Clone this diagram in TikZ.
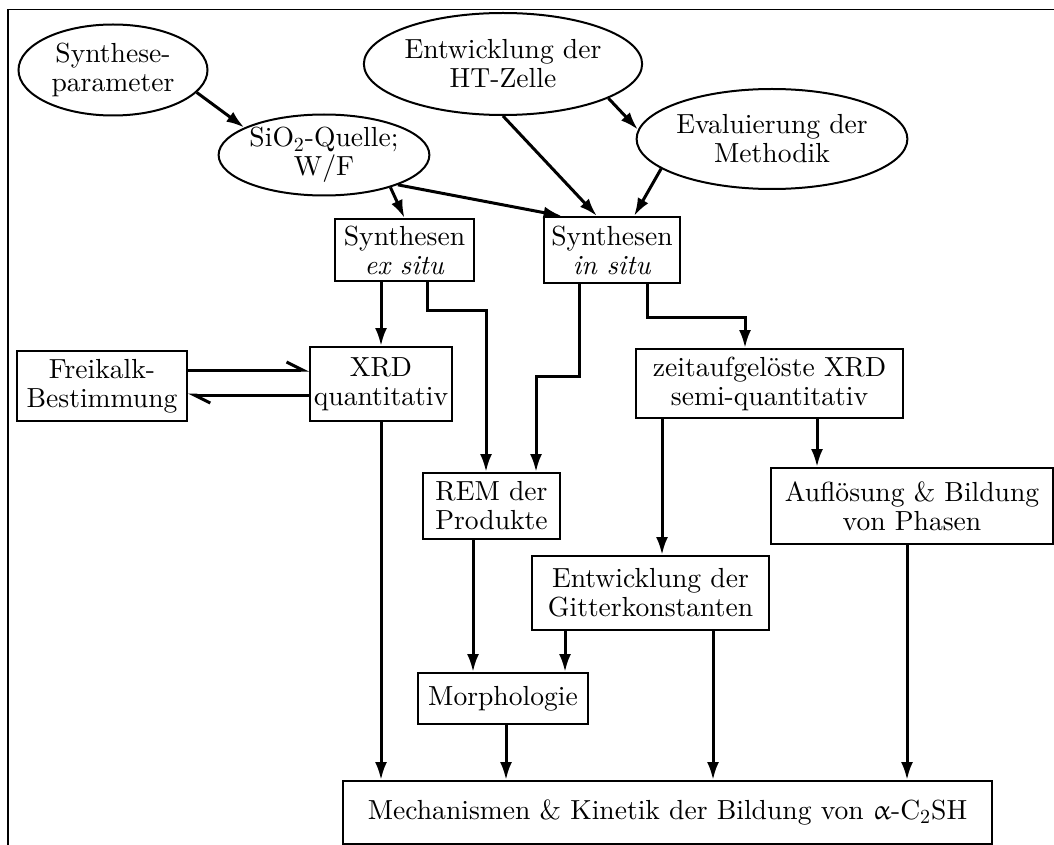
\documentclass[tikz,border=0pt]{standalone}
\usepackage{fontspec}
\setmainfont{lmroman10}[Extension=.otf,UprightFont=*-regular,ItalicFont=*-italic,BoldFont=*-bold,BoldItalicFont=*-bolditalic]
\usepackage{upgreek}
\usetikzlibrary{shapes.geometric,arrows.meta}

\begin{document}
\begin{tikzpicture}[x=0.5pt,y=-0.5pt,
  ell/.style={draw,ellipse,line width=1pt,inner sep=0pt,align=center,font=\fontsize{13.8}{14.5}\selectfont},
  box/.style={draw,rectangle,line width=1pt,inner sep=2pt,align=center,font=\fontsize{13.8}{14.5}\selectfont},
  arr/.style={line width=1.5pt,-{Latex[length=9pt,width=6pt]}},
  harp/.style={line width=1.5pt,-{Straight Barb[harpoon,length=8pt,width=8pt]}}]
\useasboundingbox (0,0) rectangle (1054,845);
\draw[line width=0.6pt] (8,850) -- (8,9.5) -- (1060,9.5);

% ellipses
\node[ell,minimum width=94.5pt,minimum height=45.5pt] (synpar) at (113,70) {Synthese-\\parameter};
\node[ell,minimum width=85pt,minimum height=40.5pt] (sio2) at (324,155) {SiO$_2$-Quelle;\\W/F};
\node[ell,minimum width=121pt,minimum height=51pt] (htzelle) at (503,64) {Entwicklung der\\HT-Zelle};
\node[ell,minimum width=122.5pt,minimum height=50pt] (evalmeth) at (772,139) {Evaluierung der\\Methodik};

% boxes
\node[box,minimum width=69.5pt,minimum height=31pt] (exsitu) at (404.5,250) {Synthesen\\\textit{ex situ}};
\node[box,minimum width=68pt,minimum height=33pt] (insitu) at (612,250) {Synthesen\\\textit{in situ}};
\node[box,minimum width=85pt,minimum height=35pt] (freikalk) at (102,386) {Freikalk-\\Bestimmung};
\node[box,minimum width=70pt,minimum height=37pt] (xrdq) at (381,384) {XRD\\quantitativ};
\node[box,minimum width=133.5pt,minimum height=34.5pt] (zeitxrd) at (769.5,383.5) {zeitaufgelöste XRD\\semi-quantitativ};
\node[box,minimum width=68.5pt,minimum height=33pt] (rem) at (491.5,506) {REM der\\Produkte};
\node[box,minimum width=141pt,minimum height=38pt] (aufl) at (912,506) {Auflösung \& Bildung\\von Phasen};
\node[box,minimum width=118.5pt,minimum height=37pt] (gitter) at (650.5,593) {Entwicklung der\\Gitterkonstanten};
\node[box,minimum width=85pt,minimum height=25.5pt] (morph) at (503,698.5) {Morphologie};
\node[box,minimum width=324.5pt,minimum height=31.5pt] (mech) at (667.5,812.5) {Mechanismen \& Kinetik der Bildung von $\upalpha$-C$_2$SH};

% top part
\draw[arr] (synpar.-15) -- (sio2.161);
\draw[arr] (sio2.-26) -- (exsitu.north);
\draw[arr] (sio2.-22) -- (insitu.146);
\draw[arr] (htzelle.south) -- (insitu.114);
\draw[arr] (htzelle.-18) -- (evalmeth.176);
\draw[arr] (evalmeth.-165) -- (insitu.57);

% syntheses
\draw[arr] (exsitu.south -| xrdq.north) -- (xrdq.north);
\draw[arr] ([xshift=11.25pt]exsitu.south) -- ++(0,28) -| ([xshift=-2.75pt]rem.north);
\draw[arr] ([xshift=-16.5pt]insitu.south) -- ++(0,92) -| ([xshift=22.25pt]rem.north);
\draw[arr] ([xshift=17.5pt]insitu.south) -- ++(0,33) -| ([xshift=-12.25pt]zeitxrd.north);

% freikalk
\coordinate (h1) at ([yshift=7pt]xrdq.west);
\coordinate (h2) at ([yshift=-5.5pt]xrdq.west);
\draw[harp] (freikalk.east |- h1) -- (h1);
\draw[harp] (h2) -- (freikalk.east |- h2);

% analysis
\draw[arr] ([xshift=-9.25pt]rem.south) coordinate (r1) -- (r1 |- morph.north);
\draw[arr] ([xshift=-42.75pt]gitter.south) coordinate (g1) -- (g1 |- morph.north);
\draw[arr] ([xshift=-53.75pt]zeitxrd.south) coordinate (z1) -- (z1 |- gitter.north);
\draw[arr] ([xshift=23.75pt]zeitxrd.south) coordinate (z2) -- (z2 |- aufl.north);

% results
\draw[arr] (xrdq.south) -- (xrdq.south |- mech.north);
\draw[arr] ([xshift=1.5pt]morph.south) coordinate (m1) -- (m1 |- mech.north);
\draw[arr] ([xshift=31.25pt]gitter.south) coordinate (g2) -- (g2 |- mech.north);
\draw[arr] ([xshift=-2.5pt]aufl.south) coordinate (a1) -- (a1 |- mech.north);
\end{tikzpicture}
\end{document}
